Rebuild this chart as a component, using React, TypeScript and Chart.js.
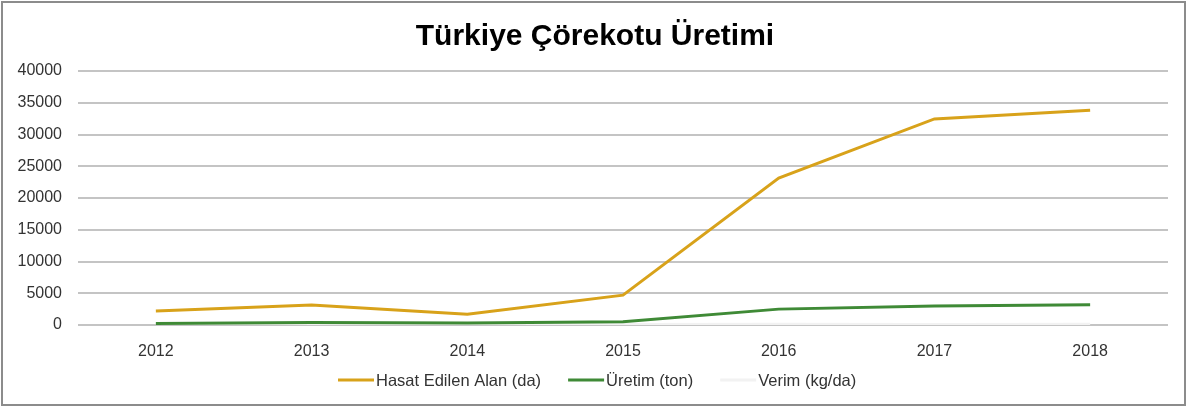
import React, { useEffect, useRef } from "react";
import { Chart, registerables } from "chart.js";

Chart.register(...registerables);

const years = ["2012", "2013", "2014", "2015", "2016", "2017", "2018"];
const hasatAlan = [2200, 3150, 1700, 4700, 23150, 32450, 33800];
const uretim = [250, 400, 300, 500, 2500, 3000, 3200];
const verim = [90, 95, 60, 65, 110, 95, 100];
const yTicks = [0, 5000, 10000, 15000, 20000, 25000, 30000, 35000, 40000];
const titleText = "Türkiye Çörekotu Üretimi";

const FONT = "'Liberation Sans', Arial, sans-serif";

const titlePlugin = {
  id: "customTitle",
  afterDraw(chart: any) {
    const ctx = chart.ctx;
    ctx.save();
    ctx.font = `bold 30px ${FONT}`;
    ctx.fillStyle = "#000";
    ctx.textAlign = "center";
    ctx.textBaseline = "alphabetic";
    ctx.fillText(titleText, 592, 42);
    ctx.restore();
  },
};

const legendPlugin = {
  id: "lineLegend",
  afterDraw(chart: any) {
    const ctx = chart.ctx;
    const lineW = 36;
    const gap = 2;
    const spacing = 27;
    ctx.save();
    ctx.font = `16.5px ${FONT}`;
    const items = chart.data.datasets.map((d: any) => ({
      text: d.label,
      color: d.borderColor,
      w: ctx.measureText(d.label).width,
    }));
    let x = 335;
    const y = 377;
    ctx.textBaseline = "middle";
    ctx.textAlign = "left";
    items.forEach((it: any) => {
      ctx.strokeStyle = it.color;
      ctx.lineWidth = 3;
      ctx.beginPath();
      ctx.moveTo(x, y);
      ctx.lineTo(x + lineW, y);
      ctx.stroke();
      ctx.fillStyle = "#333";
      ctx.fillText(it.text, x + lineW + gap, y + 1);
      x += lineW + gap + it.w + spacing;
    });
    ctx.restore();
  },
};

export default function App() {
  const ref = useRef<HTMLCanvasElement>(null);
  useEffect(() => {
    document.body.style.margin = "0";
    const ctx = ref.current!;
    const chart = new Chart(ctx, {
      type: "line",
      data: {
        labels: years,
        datasets: [
          { label: "Hasat Edilen Alan (da)", data: hasatAlan, borderColor: "#d8a21a", backgroundColor: "#d8a21a", borderWidth: 3, pointRadius: 0, tension: 0 },
          { label: "Üretim (ton)", data: uretim, borderColor: "#3f8a36", backgroundColor: "#3f8a36", borderWidth: 3, pointRadius: 0, tension: 0 },
          { label: "Verim (kg/da)", data: verim, borderColor: "#f2f2f2", backgroundColor: "#f2f2f2", borderWidth: 3, pointRadius: 0, tension: 0 },
        ],
      },
      plugins: [titlePlugin, legendPlugin],
      options: {
        animation: false,
        responsive: false,
        layout: { padding: { left: 0, right: 16, top: 68, bottom: 45 } },
        plugins: {
          title: { display: false },
          legend: { display: false },
          tooltip: { enabled: false },
        },
        scales: {
          x: {
            offset: true,
            grid: { display: false },
            border: { display: false },
            ticks: { color: "#333", font: { family: FONT, size: 16 }, padding: 9 },
            afterFit: (s: any) => { s.height = 34; },
          },
          y: {
            min: 0,
            max: 40000,
            afterBuildTicks: (s: any) => { s.ticks = yTicks.map((v) => ({ value: v })); },
            afterFit: (s: any) => { s.width = 75; },
            grid: { color: "#c4c4c4", lineWidth: 2, drawTicks: false },
            border: { display: false },
            ticks: {
              color: "#333",
              font: { family: FONT, size: 16 },
              padding: 16,
              callback: (v: any) => String(v),
            },
          },
        },
      },
    });
    return () => chart.destroy();
  }, []);
  return (
    <div style={{ position: "absolute", left: 1, top: 1, width: 1185, height: 405, border: "2px solid #8c8c8c", boxSizing: "border-box", background: "#fff" }}>
      <canvas ref={ref} width={1181} height={401} style={{ display: "block" }} />
    </div>
  );
}
